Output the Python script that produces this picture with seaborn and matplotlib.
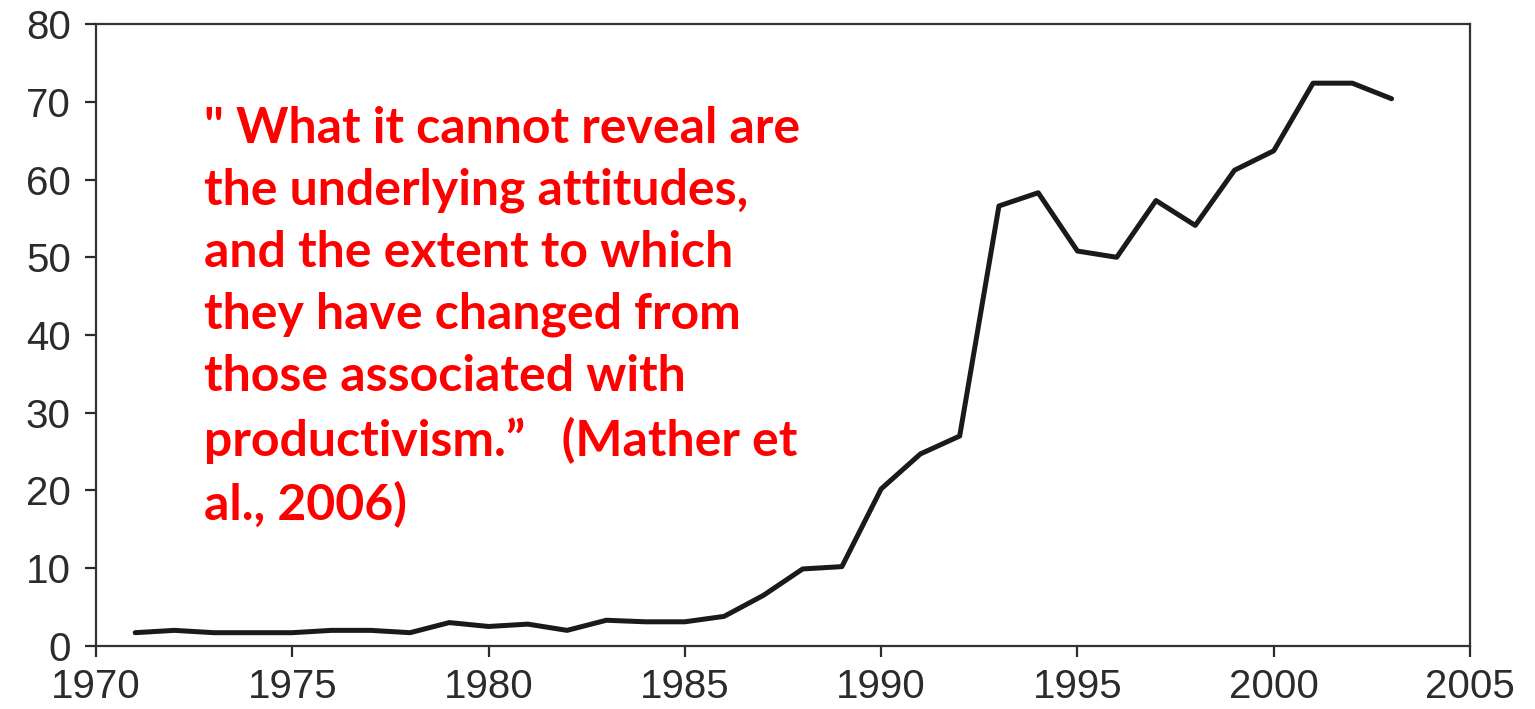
import pandas as pd
import matplotlib
matplotlib.use("Agg")
import matplotlib.pyplot as plt
import seaborn as sns

# values
years = list(range(1971, 2004))
values = [1.7, 2.0, 1.7, 1.7, 1.7, 2.0, 2.0, 1.7, 3.0, 2.5,
          2.8, 2.0, 3.3, 3.1, 3.1, 3.8, 6.5, 9.9, 10.2, 20.2,
          24.7, 27.0, 56.6, 58.3, 50.8, 50.0, 57.3, 54.1, 61.2, 63.7,
          72.4, 72.4, 70.4]
xticks = [1970, 1975, 1980, 1985, 1990, 1995, 2000, 2005]
yticks = [0, 10, 20, 30, 40, 50, 60, 70, 80]
quote = ("\" What it cannot reveal are\n"
         "the underlying attitudes,\n"
         "and the extent to which\n"
         "they have changed from\n"
         "those associated with\n"
         "productivism.\u201d   (Mather et\n"
         "al., 2006)")

df = pd.DataFrame({"year": years, "value": values})

sns.set_style("ticks")
plt.rcParams["font.family"] = ["Liberation Sans", "DejaVu Sans"]

fig = plt.figure(figsize=(15.35, 7.09), dpi=100)
ax = fig.add_axes([0.0625, 0.089, 0.8952, 0.877])

sns.lineplot(data=df, x="year", y="value", color="#1a1a1a", linewidth=3.6, ax=ax)

ax.set_xlim(1970, 2005)
ax.set_ylim(0, 80)
ax.set_xticks(xticks)
ax.set_yticks(yticks)
ax.set_xlabel("")
ax.set_ylabel("")
for s in ax.spines.values():
    s.set_linewidth(1.6)
    s.set_color("#333333")
ax.tick_params(axis="both", labelsize=29, colors="#2b2b2b", width=1.6, length=8)
ax.tick_params(axis="x", pad=8)
ax.tick_params(axis="y", pad=10)

ax.text(0.079, 0.868, quote, transform=ax.transAxes, ha="left", va="top",
        color="#ff0000", fontsize=36, fontweight="bold", family=["Lato", "DejaVu Sans"],
        linespacing=1.45)

fig.savefig("out.png", dpi=100)
